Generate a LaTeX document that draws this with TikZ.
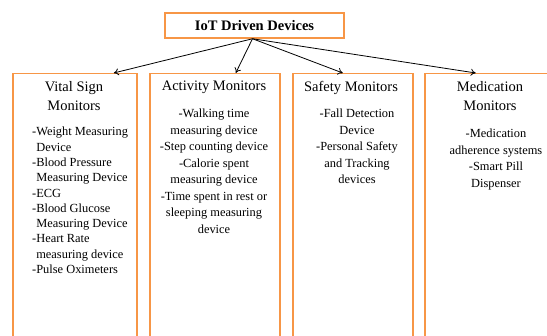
\documentclass[tikz,border=0pt]{standalone}
\usepackage{fontspec}
\setmainfont{Liberation Serif}
\usepackage{xcolor}
\usetikzlibrary{arrows.meta}
\definecolor{boxorange}{RGB}{247,150,70}

\begin{document}
\begin{tikzpicture}[x=1pt,y=-1pt,
	colbox/.style={draw=boxorange,line width=1.5pt,inner sep=0pt},
	head/.style={align=center,font=\fontsize{14.5}{19}\selectfont,inner sep=0pt,anchor=north},
	items/.style={font=\fontsize{12.4}{16.5}\selectfont,inner sep=0pt},
	arr/.style={-{To[length=5pt,width=7pt]},line width=0.8pt}]
	\useasboundingbox (0,0) rectangle (547,336);
	\clip (0,0) rectangle (547,336);

	% top box
	\node[colbox,minimum width=179pt,minimum height=25pt,font=\fontsize{14.5}{17}\selectfont\bfseries] (iot) at (254.5,25.5) {IoT Driven Devices};

	% the four columns
	\node[colbox,anchor=north west,minimum width=124pt,minimum height=300pt] (vital) at (12,73) {};
	\node[colbox,anchor=north west,minimum width=130pt,minimum height=300pt] (activity) at (149,73) {};
	\node[colbox,anchor=north west,minimum width=120pt,minimum height=300pt] (safety) at (292,73) {};
	\node[colbox,anchor=north west,minimum width=135pt,minimum height=300pt] (medic) at (424,73) {};

	\node[head] (vitalhead) at (74,81) {Vital Sign\\Monitors};
	\node[head] (activityhead) at (214,81) {Activity Monitors};
	\node[head] (safetyhead) at (351,81) {Safety Monitors};
	\node[head] (medichead) at (490,81) {Medication\\Monitors};

	\node[items,align=left,anchor=north west,font=\fontsize{12.4}{15.3}\selectfont] (vitalitems) at (32,127) {-Weight Measuring\\\hphantom{-}Device\\-Blood Pressure\\\hphantom{-}Measuring Device\\-ECG\\-Blood Glucose\\\hphantom{-}Measuring Device\\-Heart Rate\\\hphantom{-}measuring device\\-Pulse Oximeters};
	\node[items,align=center,anchor=north] (activityitems) at (214,109) {-Walking time\\measuring device\\-Step counting device\\-Calorie spent\\measuring device\\-Time spent in rest or\\sleeping measuring\\device};
	\node[items,align=center,anchor=north] (safetyitems) at (357,109) {-Fall Detection\\Device\\-Personal Safety\\and Tracking\\devices};
	\node[items,align=center,anchor=north] (medicitems) at (496,129) {-Medication\\adherence systems\\-Smart Pill\\Dispenser};

	% arrows
	\draw[arr] ([xshift=-2pt]iot.south) -- ([xshift=39pt]vital.north);
	\draw[arr] ([xshift=-2pt]iot.south) -- ([xshift=21pt]activity.north);
	\draw[arr] ([xshift=-2pt]iot.south) -- ([xshift=-10pt]safety.north);
	\draw[arr] ([xshift=-2pt]iot.south) -- ([xshift=-16.5pt]medic.north);
\end{tikzpicture}
\end{document}
